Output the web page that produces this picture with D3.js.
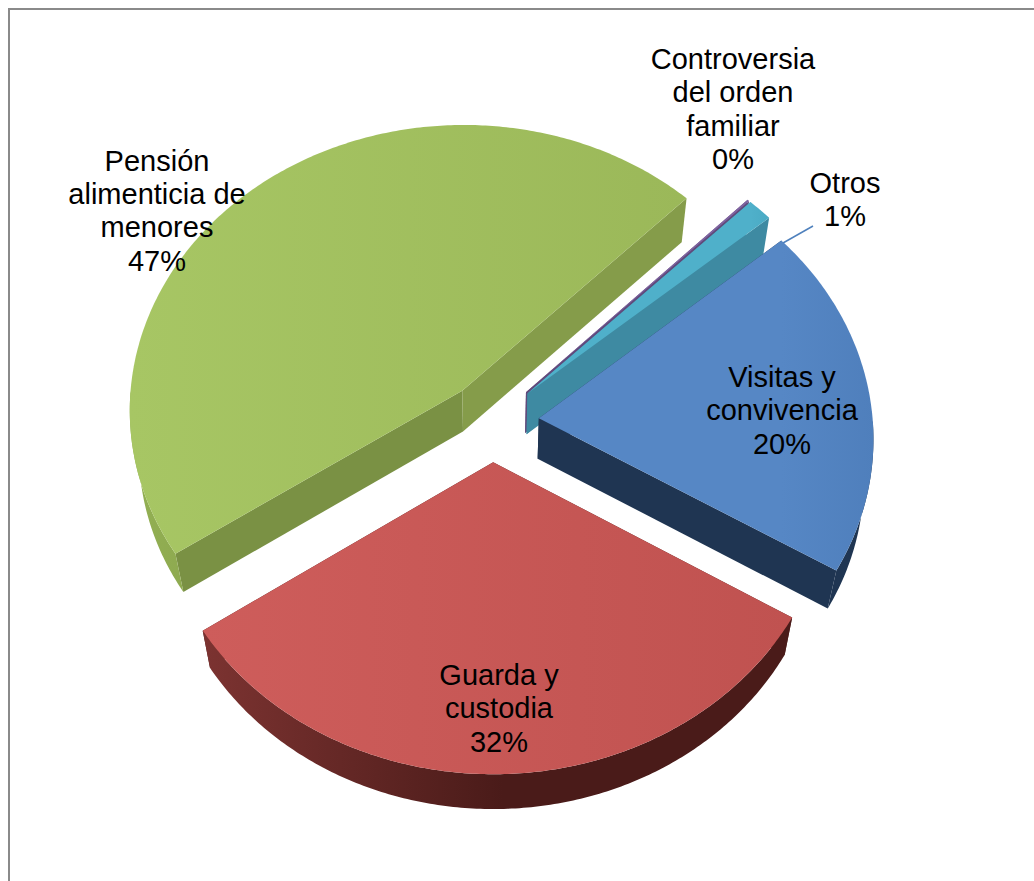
<!DOCTYPE html>
<html>
<head>
<meta charset="utf-8">
<script src="https://cdn.jsdelivr.net/npm/d3@7/dist/d3.min.js"></script>
<style>
html,body{margin:0;padding:0;background:#fff;overflow:hidden}
svg{display:block}
text{font-family:"Liberation Sans",Arial,sans-serif;font-size:29px;fill:#000;text-anchor:middle}
</style>
</head>
<body>
<svg id="chart" width="1034" height="881"></svg>
<script>
// ---- data
const categories = ["Visitas y convivencia", "Guarda y custodia", "Pensión alimenticia de menores", "Controversia del orden familiar", "Otros"];
const values = [19.8, 32, 46.8, 0.1, 1.3];

// ---- layout & style
const labelLines = [["Visitas y","convivencia"],["Guarda y","custodia"],["Pensión","alimenticia de","menores"],["Controversia","del orden","familiar"],["Otros"]];
const labelCentres = [[782,377],[499,675],[157,160.5],[733,59],[845,183]];
const topStops  = [["#5687c5","#4f7fbc"],["#ce5d5b","#c05250"],["#a7c664","#9bb859"],["#8064a2","#8064a2"],["#4fb0ca","#4aaac4"]];
const rimStops  = [["#1f3552","#1f3552"],["#7c3331","#4a1b19"],["#93b053","#788f42"],["#604a7b","#604a7b"],["#3e8aa2","#3e8aa2"]];
const startEdge = ["#1f3552","#4f1e1c","#7a9144","#604a7b","#3e8aa2"];
const endEdge   = ["#1f3552","#4f1e1c","#859c4a","#604a7b","#3e8aa2"];
const explodeBy = [47,47,47,48.5,48.5];
const drawOrder = [2,3,4,0,1];
const cx=492, cy=421.5, R=334, tilt=0.858, persp=5200;
const LH=33.4;

const svg=d3.select("#chart");
const defs=svg.append("defs");

function project(u,v,bottom){
  const w=1/(1-v/persp);
  let x=cx+u*w, y=cy+v*tilt*w;
  if(bottom){ x=cx+(x-cx)*0.975; y=y+47-0.0157*y; }
  return [x,y];
}
const pie=d3.pie().sort(null).value(d=>d).startAngle(49.7*Math.PI/180).endAngle((49.7+360)*Math.PI/180);
const arcs=pie(values);

// frame
svg.append("path").attr("d","M9,881V9H1034").attr("fill","none").attr("stroke","#8a8a8a").attr("stroke-width",2);

function grad(id,stops,x1,x2){
  const g=defs.append("linearGradient").attr("id",id).attr("gradientUnits","userSpaceOnUse")
    .attr("x1",x1).attr("x2",x2).attr("y1",0).attr("y2",0);
  g.append("stop").attr("offset",0).attr("stop-color",stops[0]);
  g.append("stop").attr("offset",1).attr("stop-color",stops[1]);
  return `url(#${id})`;
}
const line=d3.line();

drawOrder.forEach(i=>{
  const a=arcs[i];
  const mid=(a.startAngle+a.endAngle)/2;
  const ou=explodeBy[i]*Math.sin(mid), ov=-explodeBy[i]*Math.cos(mid);
  const steps=Math.max(2,Math.ceil((a.endAngle-a.startAngle)*90));
  const angles=d3.range(steps+1).map(k=>a.startAngle+(a.endAngle-a.startAngle)*k/steps);
  const rimPt=(t,b)=>project(ou+R*Math.sin(t),ov-R*Math.cos(t),b);
  const apex=b=>project(ou,ov,b);
  const top=angles.map(t=>rimPt(t,false));
  const bot=angles.map(t=>rimPt(t,true));
  const g=svg.append("g").attr("class","slice").datum(categories[i]);
  const xs=top.map(p=>p[0]);
  const x1=d3.min(xs), x2=d3.max(xs);
  // edges
  g.append("path").attr("d",line([apex(false),top[0],bot[0],apex(true)])+"Z").attr("fill",startEdge[i]);
  g.append("path").attr("d",line([apex(false),top[steps],bot[steps],apex(true)])+"Z").attr("fill",endEdge[i]);
  // outer wall: only the part of the rim that faces the viewer
  const front=angles.filter(t=>Math.cos(t)<0);
  if(front.length>1){
    const ft=front.map(t=>rimPt(t,false)), fb=front.map(t=>rimPt(t,true));
    g.append("path").attr("d",line(ft.concat(fb.slice().reverse()))+"Z").attr("fill",grad("rim"+i,rimStops[i],x1,x2<x1+400?x2:x1+300));
  }
  // top face
  g.append("path").attr("d",line([apex(false)].concat(top))+"Z").attr("fill",grad("top"+i,topStops[i],x1,x2));
});

// leader line for Otros
svg.append("line").attr("x1",783).attr("y1",243).attr("x2",813).attr("y2",226).attr("stroke","#4f81bd").attr("stroke-width",1.5);

// labels
const pct=d3.format(".0f");
labelLines.forEach((lines,i)=>{
  const all=lines.concat(pct(values[i])+"%");
  const t=svg.append("text");
  all.forEach((s,k)=>{
    t.append("tspan").attr("x",labelCentres[i][0]).attr("y",labelCentres[i][1]+k*LH+10).text(s);
  });
});
</script>
</body>
</html>
